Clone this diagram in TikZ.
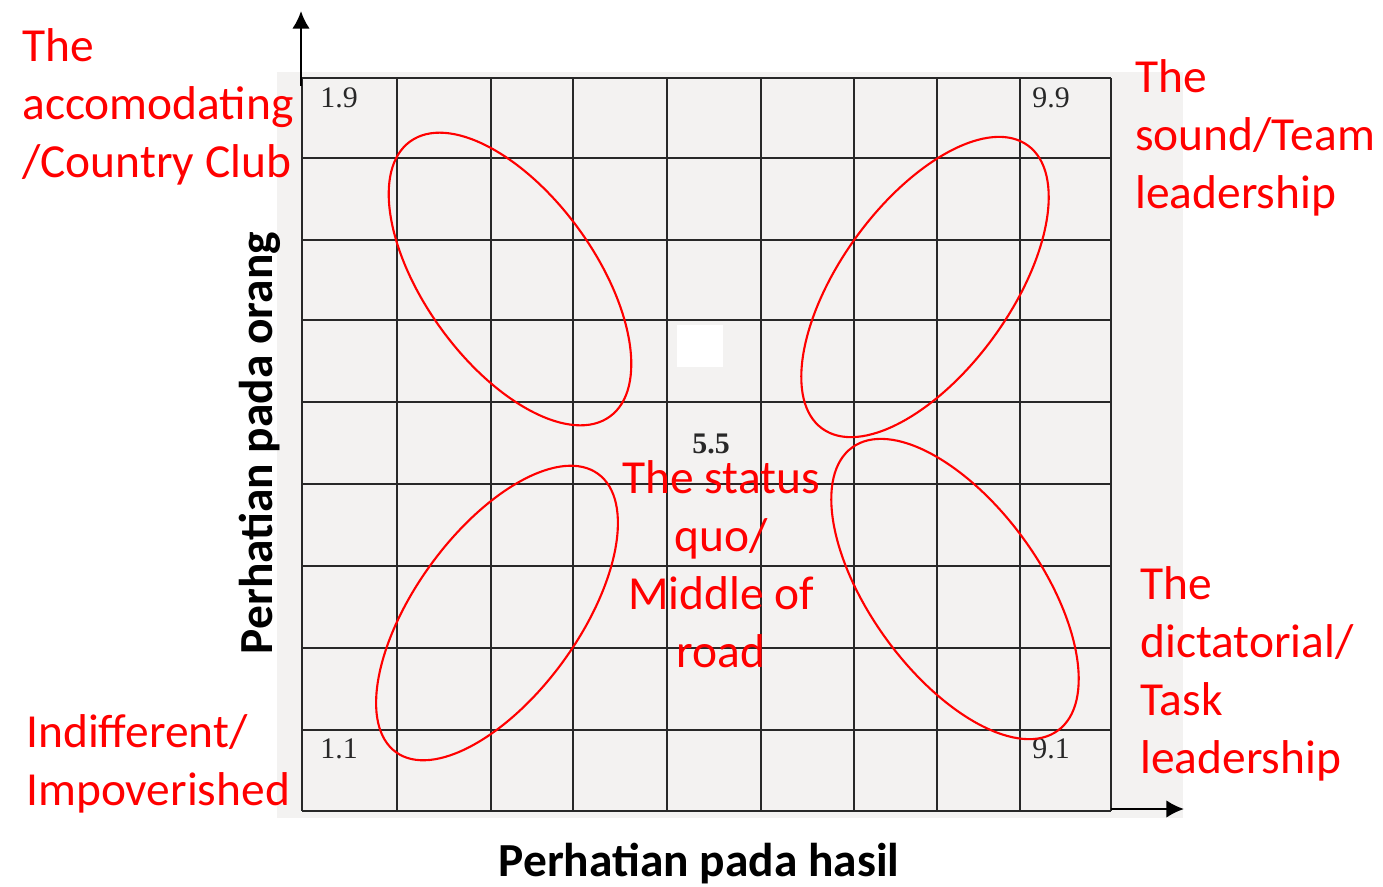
\documentclass[tikz,border=0pt]{standalone}
\usepackage{fontspec}
\setmainfont{Carlito}
\newfontfamily\gridfont{Liberation Serif}
\usetikzlibrary{arrows.meta}
\tikzset{>={Latex[length=10pt,width=10pt]}}
\definecolor{boxgray}{RGB}{243,242,241}
\definecolor{gridcol}{RGB}{40,40,40}
\colorlet{labred}{red}
\tikzstyle{gline}=[gridcol,line width=1.1pt]
\tikzstyle{axis}=[->,black,line width=1.4pt]
\tikzstyle{oval}=[labred,line width=1.2pt]
\tikzstyle{lab}=[labred,font=\fontsize{27}{33}\selectfont,inner sep=0,align=left,anchor=base west]
\tikzstyle{num}=[gridcol,font=\gridfont\fontsize{17}{17}\selectfont,inner sep=0,anchor=base west]
\def\ovalsize{(3.5cm and 1.7cm)}

\begin{document}
\begin{tikzpicture}[x=0.02cm,y=-0.02cm]
  \useasboundingbox (0,0) rectangle (1383,886);

  % BACKGROUND
  \fill[boxgray] (277,72) rectangle (1183,818);
  \fill[white] (677,325) rectangle (723,367);

  % GRID
  \foreach \x in {302,397,491,573,667,761,854,937,1020,1111}
    \draw[gline] (\x,78) -- (\x,811);
  \foreach \y in {78,158,240,320,402,484,566,648,730,811}
    \draw[gline] (302,\y) -- (1111,\y);

  % AXIS
  \coordinate (yfoot) at (301,86);
  \coordinate (ytip) at (301,11);
  \coordinate (xfoot) at (1111,809);
  \coordinate (xtip) at (1184,809);
  \draw[axis] (yfoot) -- (ytip);
  \draw[axis] (xfoot) -- (xtip);
  \node[font=\bfseries\fontsize{27}{33}\selectfont,inner sep=0,anchor=base] (hasil) at (699,876) {Perhatian pada hasil};
  \node[font=\bfseries\fontsize{27}{33}\selectfont,inner sep=0,anchor=base,rotate=90] (orang) at (272,443) {Perhatian pada orang};

  % GRID VALUES
  \node[num] (n19) at (320,107) {1.9};
  \node[num] (n99) at (1032,107) {9.9};
  \node[num] (n11) at (320,758) {1.1};
  \node[num] (n91) at (1032,758) {9.1};
  \node[num,font=\gridfont\bfseries\fontsize{17}{17}\selectfont] (n55) at (692,453) {5.5};

  % OVALS
  \coordinate (accom) at (510,279);
  \coordinate (team) at (925,287);
  \coordinate (indiff) at (497,613);
  \coordinate (task) at (955,589);
  \draw[oval,rotate around={-54:(accom)}] (accom) ellipse (3.4cm and 1.7cm);
  \draw[oval,rotate around={54:(team)}] (team) ellipse \ovalsize;
  \draw[oval,rotate around={54:(indiff)}] (indiff) ellipse (3.44cm and 1.64cm);
  \draw[oval,rotate around={-54:(task)}] (task) ellipse \ovalsize;

  % LABELS
  \node[lab] (laccom) at (22,177) {The\\accomodating\\/Country Club};
  \node[lab] (lteam) at (1135,208) {The\\sound/Team\\leadership};
  \node[lab] (lindiff) at (26,805) {Indifferent/\\Impoverished};
  \node[lab] (ltask) at (1140,773) {The\\dictatorial/\\Task\\leadership};
  \node[lab,align=center,anchor=base] (lquo) at (721,667) {The status\\quo/\\Middle of\\road};
\end{tikzpicture}
\end{document}
